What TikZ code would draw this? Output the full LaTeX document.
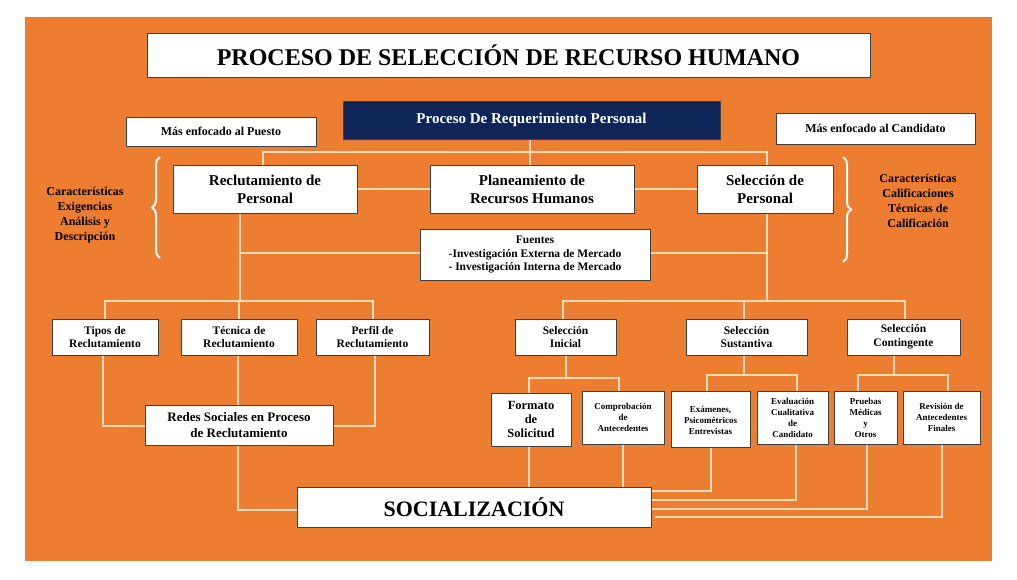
\documentclass[tikz,border=0pt]{standalone}
\usepackage{fontspec}
\setmainfont{Liberation Serif}
\usetikzlibrary{decorations.pathreplacing}
\definecolor{bg}{HTML}{EC7D31}
\definecolor{navy}{HTML}{0F2557}
\definecolor{ln}{HTML}{F6DDB8}
\tikzset{
  box/.style={draw=black!75, line width=0.8pt, fill=white, inner sep=0pt, align=center, font=\bfseries},
  conn/.style={draw=ln, line width=1.1pt},
}
\newcommand\bx[7][]{\node[box,#1,minimum width={(#5-#3)*1pt},minimum height={(#6-#4)*1pt}] (#2) at ({(#3+#5)/2},{(#4+#6)/2}) {#7};}
\begin{document}
\begin{tikzpicture}[x=1pt,y=-1pt]
\useasboundingbox (0,0) rectangle (1017,579);
\fill[white] (0,0) rectangle (1017,579);
\fill[bg] (25,17) rectangle (992,561);
% connectors first
\coordinate (t) at (530,152);
\draw[conn] (530,139) -- (t);
\draw[conn] (263,165) |- (767,152) -- (767,165);
\draw[conn] (530,152) -- (530,165);
\draw[conn] (357,189) -- (430,189);
\draw[conn] (634,189) -- (697,189);
\draw[conn] (240,213) -- (240,301);
\draw[conn] (767,213) -- (767,301);
\draw[conn] (240,253) -- (767,253);
\draw[conn] (105,319) |- (373,301) -- (373,319);
\draw[conn] (239,301) -- (239,319);
\draw[conn] (563,319) |- (905,301) -- (905,319);
\draw[conn] (744,301) -- (744,319);
\draw[conn] (103,355) |- (145,426);
\draw[conn] (375,355) |- (333,426);
\draw[conn] (238,355) -- (238,405);
\draw[conn] (238,445) |- (297,510);
\draw[conn] (566,355) -- (566,378);
\draw[conn] (529,393) |- (619,378) -- (619,391);
\draw[conn] (744,355) -- (744,375);
\draw[conn] (707,391) |- (797,375) -- (797,391);
\draw[conn] (894,355) -- (894,375);
\draw[conn] (858,391) |- (948,375) -- (948,391);
\draw[conn] (529,446) -- (529,487);
\draw[conn] (623,444) -- (623,487);
\draw[conn] (711,447) |- (651,491);
\draw[conn] (796,444) |- (651,500);
\draw[conn] (867,444) |- (651,509);
\draw[conn] (942,444) |- (655,517);
% boxes
\bx[font=\bfseries\fontsize{24}{26}\selectfont]{title}{147}{33}{870}{77}{PROCESO DE SELECCIÓN DE RECURSO HUMANO}
\bx[fill=navy,text=white,font=\bfseries\fontsize{15}{17}\selectfont]{req}{343}{101}{720}{139}{Proceso De Requerimiento Personal}
\bx[font=\bfseries\fontsize{12}{14}\selectfont]{mp}{126}{117}{316}{146}{Más enfocado al Puesto}
\bx[font=\bfseries\fontsize{12}{14}\selectfont]{mc}{776}{113}{975}{144}{Más enfocado al Candidato}
\bx[font=\bfseries\fontsize{15}{18}\selectfont]{rec}{173}{165}{357}{213}{Reclutamiento de\\Personal}
\bx[font=\bfseries\fontsize{15}{18}\selectfont]{plan}{430}{165}{634}{213}{Planeamiento de\\Recursos Humanos}
\bx[font=\bfseries\fontsize{15}{18}\selectfont]{sel}{697}{165}{833}{213}{Selección de\\Personal}
\bx[font=\bfseries\fontsize{11.5}{13.5}\selectfont]{fue}{420}{229}{650}{280}{Fuentes\\-Investigación Externa de Mercado\\- Investigación Interna de Mercado}
\bx[font=\bfseries\fontsize{11.5}{13.5}\selectfont]{tip}{52}{319}{158}{355}{Tipos de\\Reclutamiento}
\bx[font=\bfseries\fontsize{11.5}{13.5}\selectfont]{tec}{181}{319}{297}{355}{Técnica de\\Reclutamiento}
\bx[font=\bfseries\fontsize{11.5}{13.5}\selectfont]{per}{316}{319}{429}{355}{Perfil de\\Reclutamiento}
\bx[font=\bfseries\fontsize{13}{16}\selectfont]{red}{145}{405}{333}{445}{Redes Sociales en Proceso\\de Reclutamiento}
\bx[font=\bfseries\fontsize{11.5}{13.5}\selectfont]{sin}{515}{319}{616}{355}{Selección\\Inicial}
\bx[font=\bfseries\fontsize{11.5}{13.5}\selectfont]{sus}{686}{319}{807}{355}{Selección\\Sustantiva}
\bx[font=\bfseries\fontsize{11.5}{13.5}\selectfont]{con}{847}{319}{960}{355}{Selección\\Contingente}
\bx[font=\bfseries\fontsize{12.5}{14}\selectfont]{for}{491}{393}{571}{446}{Formato\\de\\Solicitud}
\bx[font=\bfseries\fontsize{9}{11}\selectfont]{com}{582}{391}{664}{444}{Comprobación\\de\\Antecedentes}
\bx[font=\bfseries\fontsize{9}{11}\selectfont]{exa}{671}{391}{750}{447}{\\[-2pt]Exámenes,\\Psicométricos\\Entrevistas}
\bx[font=\bfseries\fontsize{9}{11}\selectfont]{eva}{757}{391}{828}{444}{Evaluación\\Cualitativa\\de\\Candidato}
\bx[font=\bfseries\fontsize{9}{11}\selectfont]{pru}{834}{391}{897}{444}{Pruebas\\Médicas\\y\\Otros}
\bx[font=\bfseries\fontsize{9}{11}\selectfont]{rev}{903}{391}{980}{444}{Revisión de\\Antecedentes\\Finales}
\bx[font=\bfseries\fontsize{22}{24}\selectfont]{soc}{297}{487}{651}{527}{SOCIALIZACIÓN}
% braces
\draw[white, line width=2pt, decorate, decoration={brace, amplitude=8pt}] (160,258) -- (160,157);
\draw[white, line width=2pt, decorate, decoration={brace, amplitude=8pt}] (843,157) -- (843,262);
\node[font=\bfseries\fontsize{12}{15}\selectfont, align=center] (lt) at (85,215) {Características\\Exigencias\\Análisis y\\Descripción};
\node[font=\bfseries\fontsize{12}{15}\selectfont, align=center] (rt) at (918,201) {Características\\Calificaciones\\Técnicas de\\Calificación};
\end{tikzpicture}
\end{document}
